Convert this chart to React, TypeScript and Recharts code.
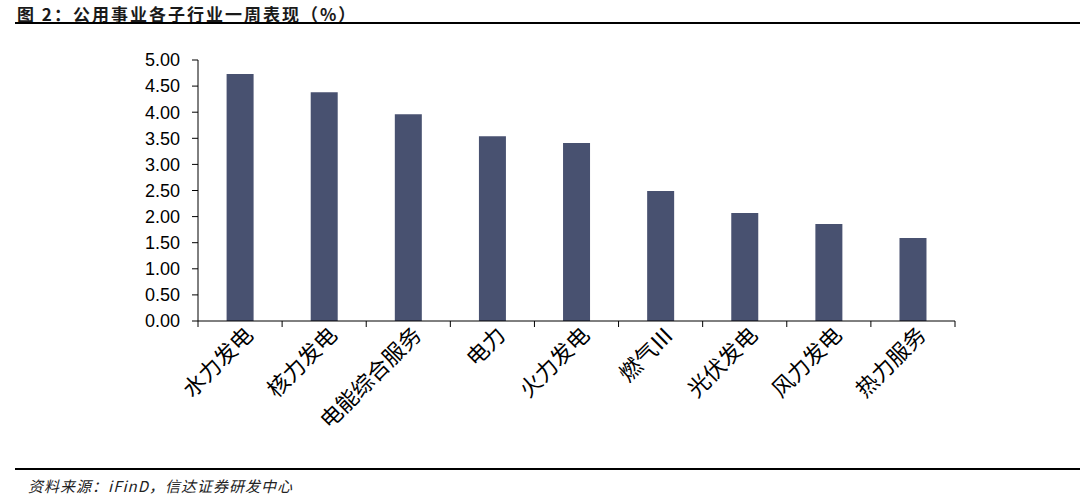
import { BarChart, Bar, XAxis, YAxis } from 'recharts';

const categories = ['水力发电', '核力发电', '电能综合服务', '电力', '火力发电', '燃气Ⅲ', '光伏发电', '风力发电', '热力服务'];
const weeklyChange = [4.73, 4.38, 3.96, 3.54, 3.41, 2.49, 2.07, 1.86, 1.59];
const yTicks = [0, 0.5, 1, 1.5, 2, 2.5, 3, 3.5, 4, 4.5, 5];

const data = categories.map((name, i) => ({ name, value: weeklyChange[i] }));

const PLOT_W = 1080 - 118 - 80 - 125;
const HALF_BAND = PLOT_W / categories.length / 2;

const CatTick = (props: any) => {
  const { x, y, payload, index } = props;
  const last = index === categories.length - 1;
  return (
    <g>
      <line x1={x - HALF_BAND} x2={x - HALF_BAND} y1={y} y2={y + 6} stroke="#000" />
      {last && <line x1={x + HALF_BAND} x2={x + HALF_BAND} y1={y} y2={y + 6} stroke="#000" />}
      <g transform={`translate(${x + 9},${y + 10})`}>
        <text
          x={0}
          y={0}
          dy="0.35em"
          textAnchor="end"
          transform="rotate(-45)"
          fontSize={22}
          fill="#000"
          fontFamily='"Noto Sans CJK SC", sans-serif'
        >
          {payload.value}
        </text>
      </g>
    </g>
  );
};

const App = () => {
  return (
    <div style={{ position: 'absolute', left: 0, top: 0, width: 1080, height: 496, background: '#fff', overflow: 'hidden' }}>
      <div
        style={{
          position: 'absolute',
          left: 17,
          top: 1,
          fontSize: 17,
          fontWeight: 'bold',
          fontFamily: '"Noto Sans CJK SC", sans-serif',
          color: '#1a1a1a',
          letterSpacing: 2,
        }}
      >
        图 2：公用事业各子行业一周表现（%）
      </div>
      <div style={{ position: 'absolute', left: 15, top: 22, width: 1065, height: 2, background: '#000' }} />

      <div style={{ position: 'absolute', left: 0, top: 0 }}>
        <BarChart
          width={1080}
          height={440}
          data={data}
          margin={{ top: 60, right: 125, left: 118, bottom: 19 }}
          barCategoryGap="34%"
        >
          <XAxis
            dataKey="name"
            interval={0}
            height={100}
            stroke="#000"
            tickLine={false}
            tickSize={0}
            tickMargin={0}
            tick={<CatTick />}
          />
          <YAxis
            domain={[0, 5]}
            ticks={yTicks}
            interval={0}
            width={80}
            tickSize={6}
            tickMargin={12}
            stroke="#000"
            tick={{ fill: '#000', fontSize: 18, fontFamily: '"Liberation Sans", Arial, sans-serif' }}
            tickFormatter={(v: number) => v.toFixed(2)}
          />
          <Bar dataKey="value" fill="#485170" isAnimationActive={false} />
        </BarChart>
      </div>

      <div style={{ position: 'absolute', left: 15, top: 468, width: 1065, height: 2, background: '#000' }} />
      <div
        style={{
          position: 'absolute',
          left: 28,
          top: 475,
          fontSize: 15,
          fontStyle: 'italic',
          fontFamily: '"Noto Sans CJK SC", sans-serif',
          color: '#222',
          letterSpacing: 1,
        }}
      >
        资料来源：iFinD，信达证券研发中心
      </div>
    </div>
  );
};

export default App;
